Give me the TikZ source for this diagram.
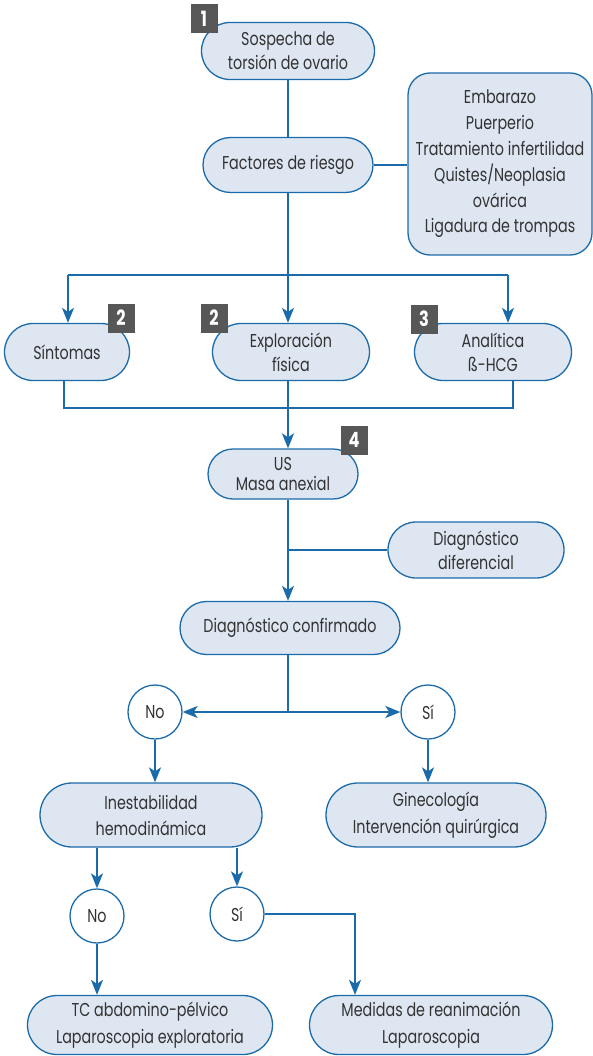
\documentclass[tikz,border=0pt]{standalone}
\usepackage{fontspec}
\setmainfont[FakeStretch=0.77]{Poppins}
\usetikzlibrary{shapes.misc,arrows.meta}
\definecolor{lblue}{HTML}{1B6BAA}
\definecolor{pfill}{HTML}{DDE6F1}
\definecolor{tgray}{HTML}{333333}
\definecolor{bgray}{HTML}{575757}
\begin{document}
\begin{tikzpicture}[x=1pt,y=-1pt,
  every node/.style={font=\fontsize{18.6}{24}\selectfont, text=tgray, align=center, inner sep=0pt},
  pill/.style={rounded rectangle, draw=lblue, fill=pfill, line width=1.3pt},
  rbox/.style={rectangle, rounded corners=22pt, draw=lblue, fill=pfill, line width=1.3pt},
  circ/.style={circle, draw=lblue, fill=white, line width=1.3pt, minimum size=54pt},
  badge/.style={rectangle, fill=bgray, minimum width=27pt, minimum height=29pt, text=white, font=\fontsize{21}{21}\selectfont\bfseries},
  conn/.style={draw=lblue, line width=1.4pt},
  arr/.style={conn, -{Stealth[length=15pt,width=12pt,inset=4pt]}}
]
\useasboundingbox (0,0) rectangle (593,1056);
% nodes
\node[pill, minimum width=173pt, minimum height=57pt] (sosp) at (288,51) {Sospecha de\\torsión de ovario};
\node[pill, minimum width=170pt, minimum height=55pt] (fact) at (288,165) {Factores de riesgo};
\node[rbox, minimum width=184pt, minimum height=182pt, font=\fontsize{18.6}{25.8}\selectfont] (risk) at (500,164) {Embarazo\\Puerperio\\Tratamiento infertilidad\\Quistes/Neoplasia\\ovárica\\Ligadura de trompas};
\node[pill, minimum width=125pt, minimum height=57pt] (sint) at (67,352) {Síntomas};
\node[pill, minimum width=157pt, minimum height=57pt] (expl) at (291,352) {Exploración\\física};
\node[pill, minimum width=157pt, minimum height=57pt] (anal) at (493,352) {Analítica\\ß-HCG};
\node[pill, minimum width=150pt, minimum height=50pt, font=\fontsize{18.6}{19.5}\selectfont] (us) at (283,474) {US\\Masa anexial};
\node[pill, minimum width=176pt, minimum height=56pt] (dif) at (476,550) {Diagnóstico\\diferencial};
\node[pill, minimum width=220pt, minimum height=53pt] (conf) at (290,628) {Diagnóstico confirmado};
\node[circ] (no1) at (155,712) {No};
\node[circ] (si1) at (428,712) {Sí};
\node[pill, minimum width=222pt, minimum height=64pt, font=\fontsize{18.6}{26}\selectfont] (inest) at (151,815) {Inestabilidad\\hemodinámica};
\node[pill, minimum width=220pt, minimum height=64pt, font=\fontsize{18.6}{27}\selectfont] (gine) at (436,815) {Ginecología\\Intervención quirúrgica};
\node[circ] (no2) at (97,916) {No};
\node[circ] (si2) at (237,914) {Sí};
\node[pill, minimum width=245pt, minimum height=59pt, font=\fontsize{18.6}{27}\selectfont] (tc) at (150,1025) {TC abdomino-pélvico\\Laparoscopia exploratoria};
\node[pill, minimum width=243pt, minimum height=59pt, font=\fontsize{18.6}{27}\selectfont] (med) at (431,1025) {Medidas de reanimación\\Laparoscopia};
% coordinates
\coordinate (col) at (288,0);
\coordinate (jL) at (68,275);
\coordinate (jR) at (508,275);
\coordinate (kL) at (64,408);
\coordinate (kR) at (513,408);
\coordinate (j3) at (288,712);
\coordinate (c5) at (355,914);
\coordinate (iL) at (97,0);
\coordinate (iR) at (237,0);
% connectors
\draw[conn] (sosp.south -| col) -- (fact.north -| col);
\draw[conn] (fact.east) -- (risk.west |- fact.east);
\draw[conn] (jL) -- (jR);
\draw[arr] (fact.south -| col) -- (expl.north -| col);
\draw[arr] (jL) -- (jL |- sint.north);
\draw[arr] (jR) -- (jR |- anal.north);
\draw[conn] (sint.south -| kL) -- (kL) -- (kR) -- (anal.south -| kR);
\draw[arr] (expl.south -| col) -- (us.north -| col);
\draw[arr] (us.south -| col) -- (conf.north -| col);
\draw[conn] (dif.west) -- (dif.west -| col);
\draw[conn] (conf.south -| col) -- (j3);
\draw[arr] (j3) -- (no1.east);
\draw[arr] (j3) -- (si1.west);
\draw[arr] (no1.south) -- (no1.south |- inest.north);
\draw[arr] (si1.south) -- (si1.south |- gine.north);
\draw[arr] (inest.south -| iL) -- (no2.north);
\draw[arr] (inest.south -| iR) -- (si2.north);
\draw[arr] (no2.south) -- (no2.south |- tc.north);
\draw[arr] (si2.east) -- (c5) -- (c5 |- med.north);
% badges
\node[badge] (b1) at (204,19) {1};
\node[badge] (b2) at (121,318) {2};
\node[badge] (b3) at (214,318) {2};
\node[badge] (b4) at (424,319) {3};
\node[badge] (b5) at (354,440) {4};
\end{tikzpicture}
\end{document}
